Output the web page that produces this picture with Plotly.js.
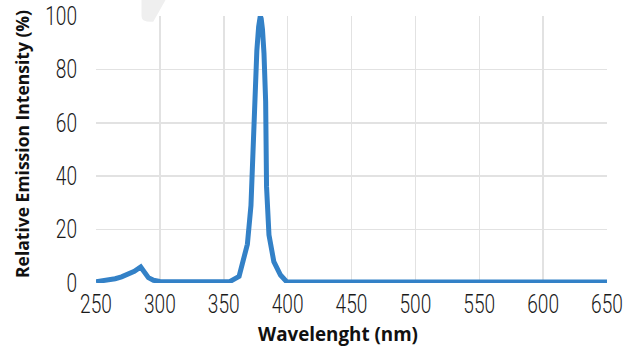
<!DOCTYPE html>
<html>
<head>
<meta charset="utf-8">
<script src="https://cdn.plot.ly/plotly-3.0.1.min.js"></script>
<style>html,body{margin:0;padding:0;background:#fff;}#chart{width:636px;height:349px;}</style>
</head>
<body>
<div id="chart"></div>
<script>
// Wavelength (nm)
const wavelength = [250, 255, 260, 265, 270, 275, 280, 285, 288, 291, 295, 300, 310, 320, 330, 340, 350, 355,
  362, 368.5, 371.3, 373.3, 375.9, 377.3, 378.0, 378.6, 379.3, 380.3, 381.5, 382.8, 383.5, 385.4, 389.2, 394.4, 399.2,
  410, 450, 500, 550, 600, 650];
// Relative emission intensity (%)
const intensity = [0.5, 0.8, 1.2, 1.6, 2.3, 3.2, 4.4, 6.0, 3.6, 2.0, 1.0, 0.6, 0.5, 0.5, 0.5, 0.5, 0.5, 0.6,
  2.5, 14.5, 29, 59, 87, 96, 99, 100, 99, 95, 86, 68, 36, 18, 8, 3, 0.5,
  0.4, 0.4, 0.4, 0.4, 0.4, 0.4];
const xTicks = [250, 300, 350, 400, 450, 500, 550, 600, 650];
const yTicks = [0, 20, 40, 60, 80, 100];
const xTitle = "Wavelenght (nm)";
const yTitle = "Relative Emission Intensity (%)";

const tickFont = {family: "Roboto, 'DejaVu Sans Condensed', sans-serif", size: 25, color: "#1a1a1a", weight: 300};
const xTitleFont = {family: "'Open Sans', Lato, sans-serif", size: 18.8, color: "#111111", weight: 800};
const yTitleFont = {family: "'Open Sans', Lato, sans-serif", size: 17.5, color: "#111111", weight: 800};

const trace = {
  x: wavelength, y: intensity, type: "scatter", mode: "lines",
  line: {color: "#3381c7", width: 5}, hoverinfo: "skip"
};

const layout = {
  width: 636, height: 349,
  margin: {l: 96, r: 29, t: 16, b: 66},
  paper_bgcolor: "#ffffff", plot_bgcolor: "#ffffff",
  showlegend: false,
  xaxis: {
    range: [250, 650], tickvals: xTicks, ticktext: xTicks.map(String),
    showgrid: true, gridcolor: "#e2e2e2", gridwidth: 1.5,
    zeroline: false, showline: false, ticks: "", ticklabelstandoff: 4,
    tickfont: tickFont, fixedrange: true
  },
  yaxis: {
    range: [0, 100], tickvals: yTicks, ticktext: yTicks.map(String),
    showgrid: true, gridcolor: "#e2e2e2", gridwidth: 1.5,
    zeroline: false, showline: false, ticks: "", ticklabelstandoff: 18,
    tickfont: tickFont, fixedrange: true
  },
  shapes: [{
    type: "path", xref: "paper", yref: "paper", layer: "below",
    path: "M 0.089 1.07 L 0.089 1.0 Q 0.089 0.978 0.108 0.978 L 0.112 0.978 L 0.139 1.07 Z",
    fillcolor: "#efefef", line: {width: 0}
  }],
  annotations: [
    {text: "<b>" + xTitle + "</b>", xref: "paper", yref: "paper", x: (338 - 96) / 511, y: -(334 - 283) / 267,
     xanchor: "center", yanchor: "middle", showarrow: false, font: xTitleFont},
    {text: "<b>" + yTitle + "</b>", xref: "paper", yref: "paper", x: -(96 - 22) / 511, y: (283 - 144) / 267,
     xanchor: "center", yanchor: "middle", textangle: -90, showarrow: false, font: yTitleFont}
  ]
};

Plotly.newPlot("chart", [trace], layout, {staticPlot: true, displayModeBar: false}).then(function (gd) {
  // narrow the tick digits to match the condensed face of the reference
  gd.querySelectorAll(".xtick text, .ytick text").forEach(function (t) {
    t.setAttribute("textLength", (t.textContent.length * 10.6).toFixed(1));
    t.setAttribute("lengthAdjust", "spacingAndGlyphs");
  });
});
</script>
</body>
</html>
